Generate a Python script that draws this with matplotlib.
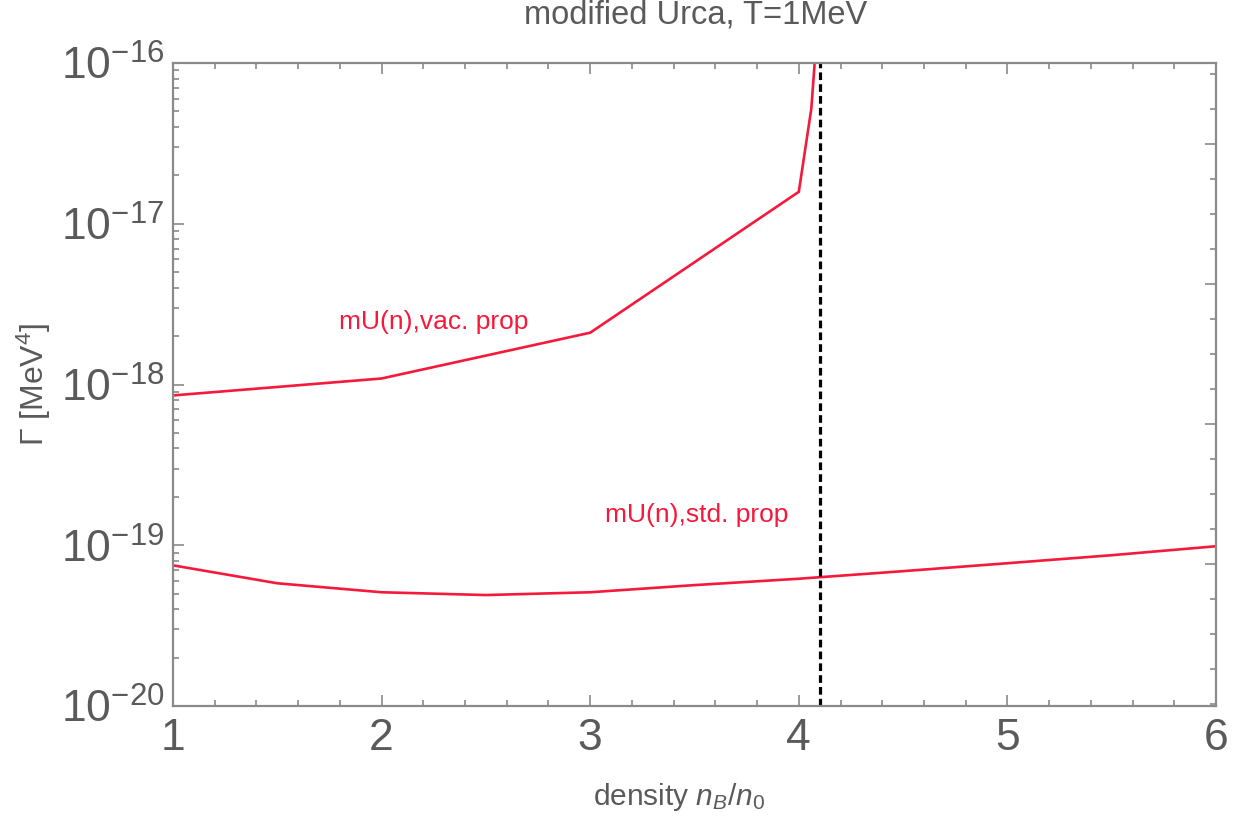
import numpy as np
import matplotlib
matplotlib.use('Agg')
import matplotlib.pyplot as plt
from matplotlib.ticker import FixedLocator, MultipleLocator, LogLocator, NullFormatter

plt.rcParams['font.family'] = ['Liberation Sans', 'DejaVu Sans']
plt.rcParams['mathtext.fontset'] = 'custom'
plt.rcParams['mathtext.rm'] = 'Liberation Sans'
plt.rcParams['mathtext.it'] = 'Liberation Sans:italic'
plt.rcParams['mathtext.bf'] = 'Liberation Sans:bold'

# density n_B/n_0 and rate Gamma [MeV^4]
x_vac = [1.0, 2.0, 3.0, 4.0, 4.06, 4.075, 4.085]
g_vac = [8.55e-19, 1.09e-18, 2.10e-18, 1.58e-17, 5.2e-17, 9.6e-17, 2.5e-16]

x_std = [1.0, 1.5, 2.0, 2.5, 3.0, 3.5, 4.0, 4.5, 5.0, 5.5, 6.0]
g_std = [7.5e-20, 5.8e-20, 5.1e-20, 4.9e-20, 5.1e-20, 5.65e-20, 6.19e-20,
         6.9e-20, 7.73e-20, 8.67e-20, 9.86e-20]

x_threshold = 4.1

x_ticks = [1, 2, 3, 4, 5, 6]
y_ticks = [1e-20, 1e-19, 1e-18, 1e-17, 1e-16]
y_ticklabels = [r'$10^{-20}$', r'$10^{-19}$', r'$10^{-18}$', r'$10^{-17}$', r'$10^{-16}$']

# odd linear frame ticks on the right edge
right_major = [1, 2, 3, 4]
right_minor = [0, 0.25, 0.5, 0.75, 1.25, 1.5, 1.75, 2.25, 2.5, 2.75,
               3.25, 3.5, 3.75, 4.25, 4.5]

red = '#F5193C'
gray = '#8a8a8a'
text_gray = '#5a5a5a'

fig = plt.figure(figsize=(12.43, 8.18), dpi=100)
ax = fig.add_axes([0.13918, 0.13692, 0.83910, 0.78606])

ax.plot(x_vac, g_vac, color=red, lw=1.9, solid_joinstyle='miter')
ax.plot(x_std, g_std, color=red, lw=1.9)
ax.axvline(x_threshold, color='black', lw=2.3, dashes=(2.4, 1.3))

ax.set_yscale('log')
ax.set_xlim(1, 6)
ax.set_ylim(1e-20, 1e-16)

ax.set_xticks(x_ticks)
ax.set_xticklabels([str(v) for v in x_ticks])
ax.xaxis.set_minor_locator(MultipleLocator(0.2))
ax.set_yticks(y_ticks)
ax.set_yticklabels(y_ticklabels)
ax.yaxis.set_minor_locator(LogLocator(base=10, subs=np.arange(2, 10)))
ax.yaxis.set_minor_formatter(NullFormatter())

ax.tick_params(which='both', direction='in', top=True, right=False,
               color=gray, width=1.2, labelcolor=text_gray)
ax.tick_params(which='major', length=8)
ax.tick_params(which='minor', length=4)
ax.tick_params(axis='y', which='major', labelsize=32, pad=6)
ax.tick_params(axis='x', which='major', labelsize=32, pad=9)

for sp in ax.spines.values():
    sp.set_color(gray)
    sp.set_linewidth(1.6)

ax2 = ax.twinx()
ax2.set_ylim(-0.014, 4.578)
ax2.yaxis.set_major_locator(FixedLocator(right_major))
ax2.yaxis.set_minor_locator(FixedLocator(right_minor))
ax2.tick_params(which='both', direction='in', labelright=False, color=gray, width=1.2)
ax2.tick_params(which='major', length=8)
ax2.tick_params(which='minor', length=4)
for sp in ax2.spines.values():
    sp.set_visible(False)

ax.text(2.25, 10 ** -17.61, 'mU(n),vac. prop', color=red, fontsize=19,
        ha='center', va='center')
ax.text(3.51, 10 ** -18.81, 'mU(n),std. prop', color=red, fontsize=19,
        ha='center', va='center')

fig.text(0.5595, 0.982, 'modified Urca, T=1MeV', color=text_gray, fontsize=23.5,
         ha='center', va='center')
fig.text(0.5465, 0.026, r'density $n_B/n_0$', color=text_gray, fontsize=21.5,
         ha='center', va='center')
fig.text(0.027, 0.53, r'Γ [MeV$^4$]', color=text_gray, fontsize=23,
         ha='center', va='center', rotation=90)

fig.savefig('out.png', dpi=100)
